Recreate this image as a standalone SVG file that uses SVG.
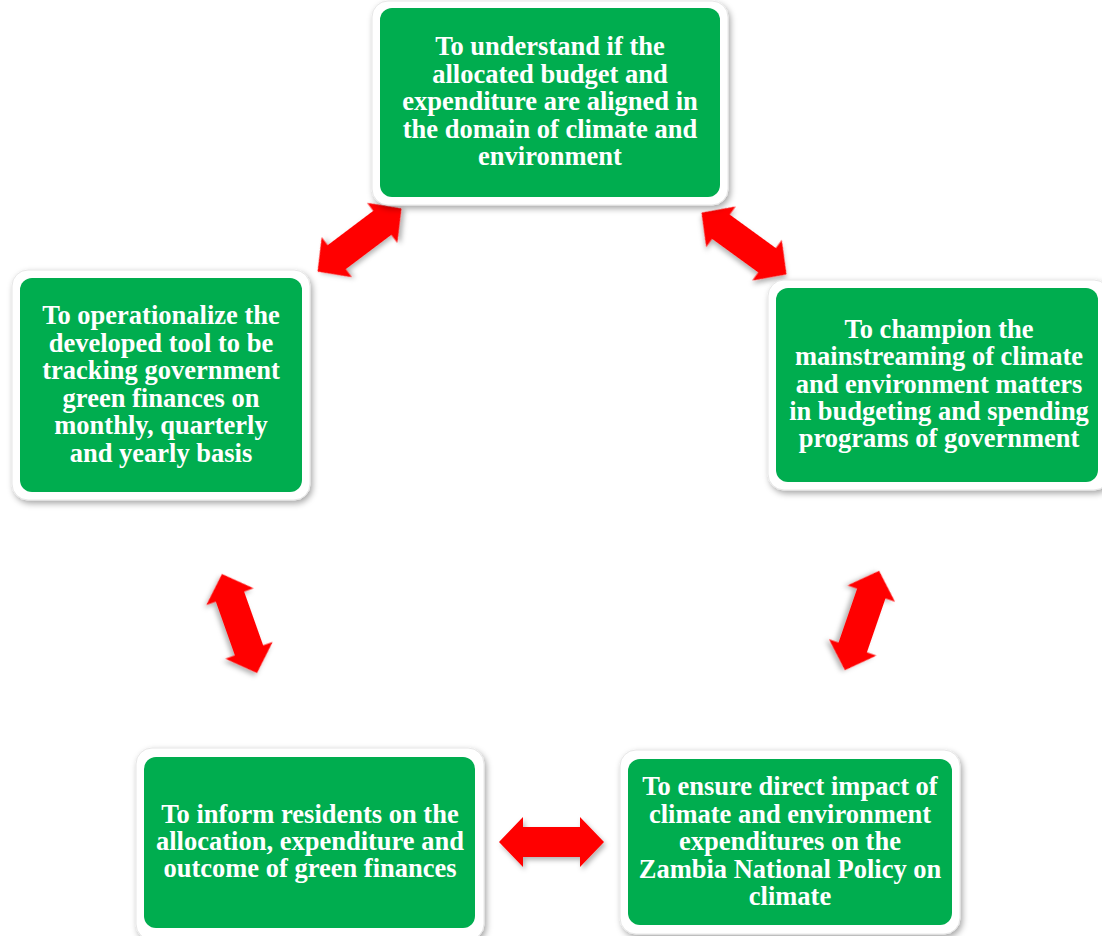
<svg xmlns="http://www.w3.org/2000/svg" width="1102" height="936" viewBox="0 0 1102 936">
<defs>
<filter id="sh" x="-10%" y="-10%" width="125%" height="125%">
<feDropShadow dx="2" dy="3" stdDeviation="3" flood-color="#000" flood-opacity="0.35"/>
</filter>
<filter id="ash" x="-20%" y="-20%" width="150%" height="150%">
<feDropShadow dx="2" dy="3" stdDeviation="2.5" flood-color="#000" flood-opacity="0.3"/>
</filter>
<path id="arr" d="M -52.5 0 L -28.5 -25 L -28.5 -15 L 28.5 -15 L 28.5 -25 L 52.5 0 L 28.5 25 L 28.5 15 L -28.5 15 L -28.5 25 Z"/>
</defs>
<style>
.outer{fill:#ffffff;stroke:#e6e6e6;stroke-width:1;filter:url(#sh)}
.inner{fill:#00ad4f}
.t{font-family:"Liberation Serif","Times New Roman",serif;font-weight:bold;font-size:26.5px;fill:#ffffff;text-anchor:middle}
.a{fill:#ff0000;filter:url(#ash)}
</style>
<rect width="1102" height="936" fill="#ffffff"/>
<g id="connectors">
<use href="#arr" class="a" transform="translate(359.5,240) rotate(-37)"/>
<use href="#arr" class="a" transform="translate(744,243.5) rotate(36)"/>
<use href="#arr" class="a" transform="translate(239.5,623.5) rotate(70.5)"/>
<use href="#arr" class="a" transform="translate(862,620.5) rotate(109)"/>
<use href="#arr" class="a" transform="translate(551.5,842)"/>
</g>
<g id="node-top">
<rect class="outer" x="372" y="1" width="356" height="204" rx="16"/>
<rect class="inner" x="380" y="8" width="340" height="189" rx="12"/>
<text class="t" x="550" y="55">To understand if the</text>
<text class="t" x="550" y="82.5">allocated budget and</text>
<text class="t" x="550" y="110">expenditure are aligned in</text>
<text class="t" x="550" y="137.5">the domain of climate and</text>
<text class="t" x="550" y="165">environment</text>
</g>
<g id="node-left">
<rect class="outer" x="12" y="270" width="298" height="230" rx="16"/>
<rect class="inner" x="20" y="278" width="282" height="214" rx="12"/>
<text class="t" x="161" y="324">To operationalize the</text>
<text class="t" x="161" y="352">developed tool to be</text>
<text class="t" x="161" y="379">tracking government</text>
<text class="t" x="161" y="407">green finances on</text>
<text class="t" x="161" y="434">monthly, quarterly</text>
<text class="t" x="161" y="462">and yearly basis</text>
</g>
<g id="node-right">
<rect class="outer" x="768" y="280" width="342" height="210" rx="16"/>
<rect class="inner" x="776" y="288" width="322" height="194" rx="12"/>
<text class="t" x="939" y="338">To champion the</text>
<text class="t" x="939" y="365">mainstreaming of climate</text>
<text class="t" x="939" y="393">and environment matters</text>
<text class="t" x="939" y="420">in budgeting and spending</text>
<text class="t" x="939" y="447">programs of government</text>
</g>
<g id="node-bottom-right">
<rect class="outer" x="620" y="750" width="340" height="184" rx="16"/>
<rect class="inner" x="628" y="759" width="324" height="166" rx="12"/>
<text class="t" x="790" y="795">To ensure direct impact of</text>
<text class="t" x="790" y="823">climate and environment</text>
<text class="t" x="790" y="850">expenditures on the</text>
<text class="t" x="790" y="878">Zambia National Policy on</text>
<text class="t" x="790" y="905">climate</text>
</g>
<g id="node-bottom-left">
<rect class="outer" x="136" y="748" width="348" height="192" rx="16"/>
<rect class="inner" x="144" y="757" width="331" height="171" rx="12"/>
<text class="t" x="310" y="823">To inform residents on the</text>
<text class="t" x="310" y="850">allocation, expenditure and</text>
<text class="t" x="310" y="877">outcome of green finances</text>
</g>
</svg>
